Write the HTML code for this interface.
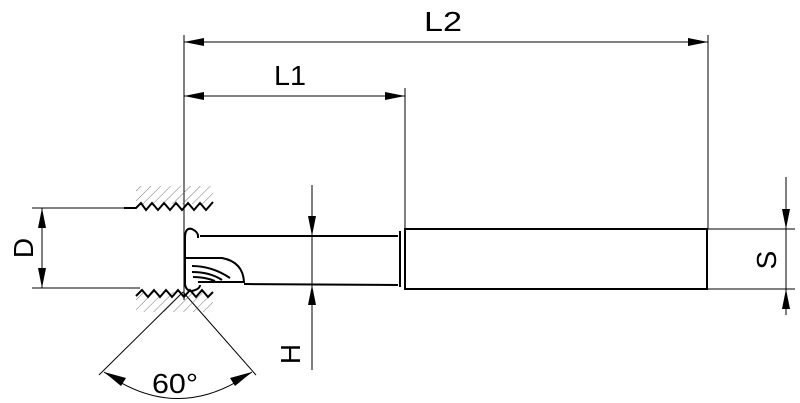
<!DOCTYPE html>
<html><head><style>html,body{margin:0;padding:0;background:#fff;}svg{display:block}</style></head><body>
<svg width="800" height="403" viewBox="0 0 800 403" xmlns="http://www.w3.org/2000/svg" font-family="Liberation Sans, sans-serif">
<defs>
<marker id="a" viewBox="0 0 10 4" refX="10" refY="2" markerWidth="20" markerHeight="8" markerUnits="userSpaceOnUse" orient="auto"><path d="M0,0 L10,2 L0,4 Z" fill="#000"/></marker>
<pattern id="h" width="7" height="7" patternUnits="userSpaceOnUse" patternTransform="rotate(45)"><line x1="0" y1="0" x2="0" y2="7" stroke="#555" stroke-width="0.8"/></pattern>
</defs>
<g stroke="#000" stroke-width="1" fill="none">
<line x1="184" y1="35" x2="184" y2="300"/>
<line x1="405" y1="88" x2="405" y2="229"/>
<line x1="708" y1="35" x2="708" y2="229"/>
<line x1="184" y1="42" x2="708" y2="42" marker-end="url(#a)"/>
<line x1="708" y1="42" x2="184" y2="42" marker-end="url(#a)"/>
<line x1="184" y1="96" x2="405" y2="96" marker-end="url(#a)"/>
<line x1="405" y1="96" x2="184" y2="96" marker-end="url(#a)"/>
<line x1="32" y1="208" x2="125" y2="208"/>
<line x1="32" y1="288" x2="140" y2="288"/>
<line x1="42" y1="248" x2="42" y2="208" marker-end="url(#a)"/>
<line x1="42" y1="248" x2="42" y2="288" marker-end="url(#a)"/>
<line x1="312" y1="185" x2="312" y2="236" marker-end="url(#a)"/>
<line x1="312" y1="370" x2="312" y2="285" marker-end="url(#a)"/>
<line x1="312" y1="236" x2="312" y2="285"/>
<line x1="708" y1="229" x2="795" y2="229"/>
<line x1="708" y1="289" x2="795" y2="289"/>
<line x1="786" y1="177" x2="786" y2="229" marker-end="url(#a)"/>
<line x1="786" y1="315" x2="786" y2="289" marker-end="url(#a)"/>
<line x1="786" y1="229" x2="786" y2="289"/>
<line x1="183" y1="292" x2="99" y2="375"/>
<line x1="183" y1="292" x2="256" y2="375"/>
<path d="M104,372 Q178,425 252,372"/>
</g>
<path d="M104,372 L126,378 L121,386 Z" fill="#000"/>
<path d="M252,372 L235,386 L230,378 Z" fill="#000"/>
<rect x="136" y="186" width="77" height="18" fill="url(#h)"/>
<rect x="136" y="292" width="77" height="20" fill="url(#h)"/>
<g stroke="#000" stroke-width="2" fill="none">
<path d="M124,208 L136,208 L141,203 L146,210 L152,203 L158,210 L164,203 L170,210 L176,203 L182,210 L188,203 L194,210 L200,203 L206,210 L213,202"/>
<path d="M136,296 L142,290 L148,297 L154,290 L160,297 L166,290 L172,297 L178,290 L184,297 L190,290 L196,297 L202,290 L208,297 L213,292"/>
<rect x="405" y="229" width="302" height="60"/>
<path d="M400,231 L400,287"/>
<path d="M398,236 L200,236 M398,285 L244,284"/>
<path d="M185,258 L185,238 Q185,227 192,229 Q198,232 198,236 L198,238"/>
<path d="M185,258 L185,284 Q186,291 192,291 Q200,289 200,285"/>
<path d="M186,258 L222,258 Q243,262 244,282 L198,282"/>
<path d="M192,266 Q212,266 230,278 M192,272 Q210,272 222,280 M193,277 Q205,277 215,281"/>
</g>
<g font-size="28" fill="#000">
<text x="424" y="31" textLength="38" lengthAdjust="spacingAndGlyphs">L2</text>
<text x="274" y="85" textLength="32" lengthAdjust="spacingAndGlyphs">L1</text>
<text x="152" y="393" textLength="46" lengthAdjust="spacingAndGlyphs">60°</text>
<text transform="translate(33,248) rotate(-90)" text-anchor="middle">D</text>
<text transform="translate(300,354) rotate(-90)" text-anchor="middle">H</text>
<text transform="translate(776,260) rotate(-90)" text-anchor="middle">S</text>
</g>
</svg>
</body></html>
